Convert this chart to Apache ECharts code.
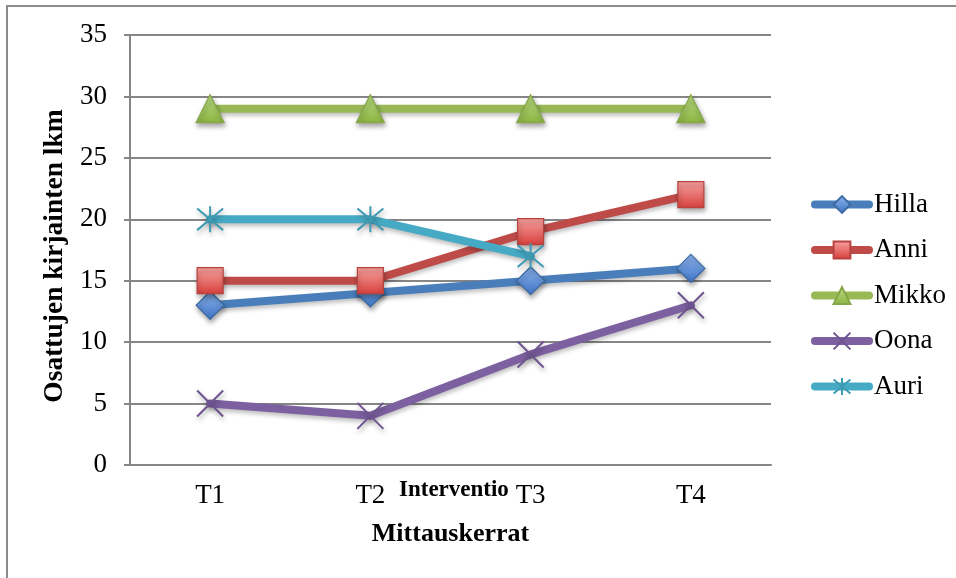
<!DOCTYPE html>
<html>
<head>
<meta charset="utf-8">
<script src="https://cdn.jsdelivr.net/npm/echarts@6/dist/echarts.min.js"></script>
<style>
  html, body { margin: 0; padding: 0; background: #fff; }
  #chart { width: 956px; height: 578px; }
</style>
</head>
<body>
<div id="chart"></div>
<script>
// Measurement points and the letter counts per pupil
const categories = ['T1', 'T2', 'T3', 'T4'];
const hilla = [13, 14, 15, 16];
const anni = [15, 15, 19, 22];
const mikko = [29, 29, 29, 29];
const oona = [5, 4, 9, 13];
const auri = [20, 20, 17, null];
const yTicks = [0, 5, 10, 15, 20, 25, 30, 35];

const serif = '"Liberation Serif", "DejaVu Serif", serif';

// Marker shapes drawn as stroked paths
const crossPath = 'path://M0,0 L10,10 M10,0 L0,10';
const starPath = 'path://M0,0 L10,10 M10,0 L0,10 M5,-1 L5,11';

function grad(top, bottom) {
  return new echarts.graphic.LinearGradient(0, 0, 0, 1, [
    { offset: 0, color: top },
    { offset: 1, color: bottom }
  ]);
}

const markerShadow = {
  shadowBlur: 5,
  shadowColor: 'rgba(0,0,0,0.35)',
  shadowOffsetX: 1,
  shadowOffsetY: 3
};
const lineShadow = {
  shadowBlur: 4,
  shadowColor: 'rgba(0,0,0,0.25)',
  shadowOffsetY: 3
};

function lineSeries(name, data, lineColor, symbol, size, itemStyle) {
  return {
    name: name,
    type: 'line',
    data: data,
    symbol: symbol,
    symbolSize: size,
    showAllSymbol: true,
    connectNulls: false,
    lineStyle: Object.assign({ color: lineColor, width: 8, cap: 'round', join: 'round' }, lineShadow),
    itemStyle: Object.assign({}, itemStyle, markerShadow),
    emphasis: { disabled: true },
    animation: false
  };
}

const chart = echarts.init(document.getElementById('chart'), null, { renderer: 'canvas' });

chart.setOption({
  backgroundColor: '#ffffff',
  textStyle: { fontFamily: serif },
  grid: { left: 130, right: 185, top: 35, bottom: 113 },
  graphic: [
    {
      type: 'rect',
      shape: { x: 7, y: 6, width: 1000, height: 620 },
      style: { fill: 'none', stroke: '#8c8c8c', lineWidth: 2 },
      silent: true
    },
    {
      type: 'text',
      left: 399,
      top: 479,
      style: {
        text: 'Interventio',
        font: 'bold 23px ' + serif,
        fill: '#000'
      }
    }
  ],
  legend: {
    orient: 'vertical',
    left: 806,
    top: 186,
    itemWidth: 54,
    itemHeight: 21,
    itemGap: 18.5,
    lineStyle: { width: 8, cap: 'round' },
    textStyle: { fontFamily: serif, fontSize: 27, color: '#000' },
    data: ['Hilla', 'Anni', 'Mikko', 'Oona', 'Auri']
  },
  xAxis: {
    type: 'category',
    data: categories,
    boundaryGap: true,
    name: 'Mittauskerrat',
    nameLocation: 'middle',
    nameGap: 56,
    nameTextStyle: { fontFamily: serif, fontSize: 26, fontWeight: 'bold', color: '#000' },
    axisLine: { show: true, lineStyle: { color: '#868686', width: 2 } },
    axisTick: { show: false },
    axisLabel: { fontFamily: serif, fontSize: 27, color: '#000', margin: 17 },
    splitLine: { show: false }
  },
  yAxis: {
    type: 'value',
    min: yTicks[0],
    max: yTicks[yTicks.length - 1],
    interval: 5,
    name: 'Osattujen kirjainten lkm',
    nameLocation: 'middle',
    nameGap: 60,
    nameTextStyle: { fontFamily: serif, fontSize: 27.5, fontWeight: 'bold', color: '#000', padding: [0, 12, 0, 0] },
    axisLine: { show: true, lineStyle: { color: '#868686', width: 2 } },
    axisTick: { show: true, length: 6, lineStyle: { color: '#868686', width: 2 } },
    axisLabel: { fontFamily: serif, fontSize: 27, color: '#000', margin: 23 },
    splitLine: { show: true, lineStyle: { color: '#868686', width: 2 } }
  },
  series: [
    lineSeries('Hilla', hilla, '#4a7ebb', 'diamond', 28,
      { color: grad('#8fb5ee', '#3d74c4'), borderColor: '#3c6aa3', borderWidth: 1.2 }),
    lineSeries('Anni', anni, '#be4b48', 'rect', 26,
      { color: grad('#f8a3a1', '#d63f3b'), borderColor: '#b7423e', borderWidth: 1.2 }),
    lineSeries('Mikko', mikko, '#98b954', 'triangle', 28,
      { color: grad('#bcdc84', '#8bb441'), borderColor: '#86a64a', borderWidth: 1.2 }),
    lineSeries('Oona', oona, '#7d60a0', crossPath, 26,
      { color: 'transparent', borderColor: '#6d5390', borderWidth: 2 }),
    lineSeries('Auri', auri, '#46aac5', starPath, 26,
      { color: 'transparent', borderColor: '#3d9bb4', borderWidth: 2 })
  ]
});
</script>
</body>
</html>
